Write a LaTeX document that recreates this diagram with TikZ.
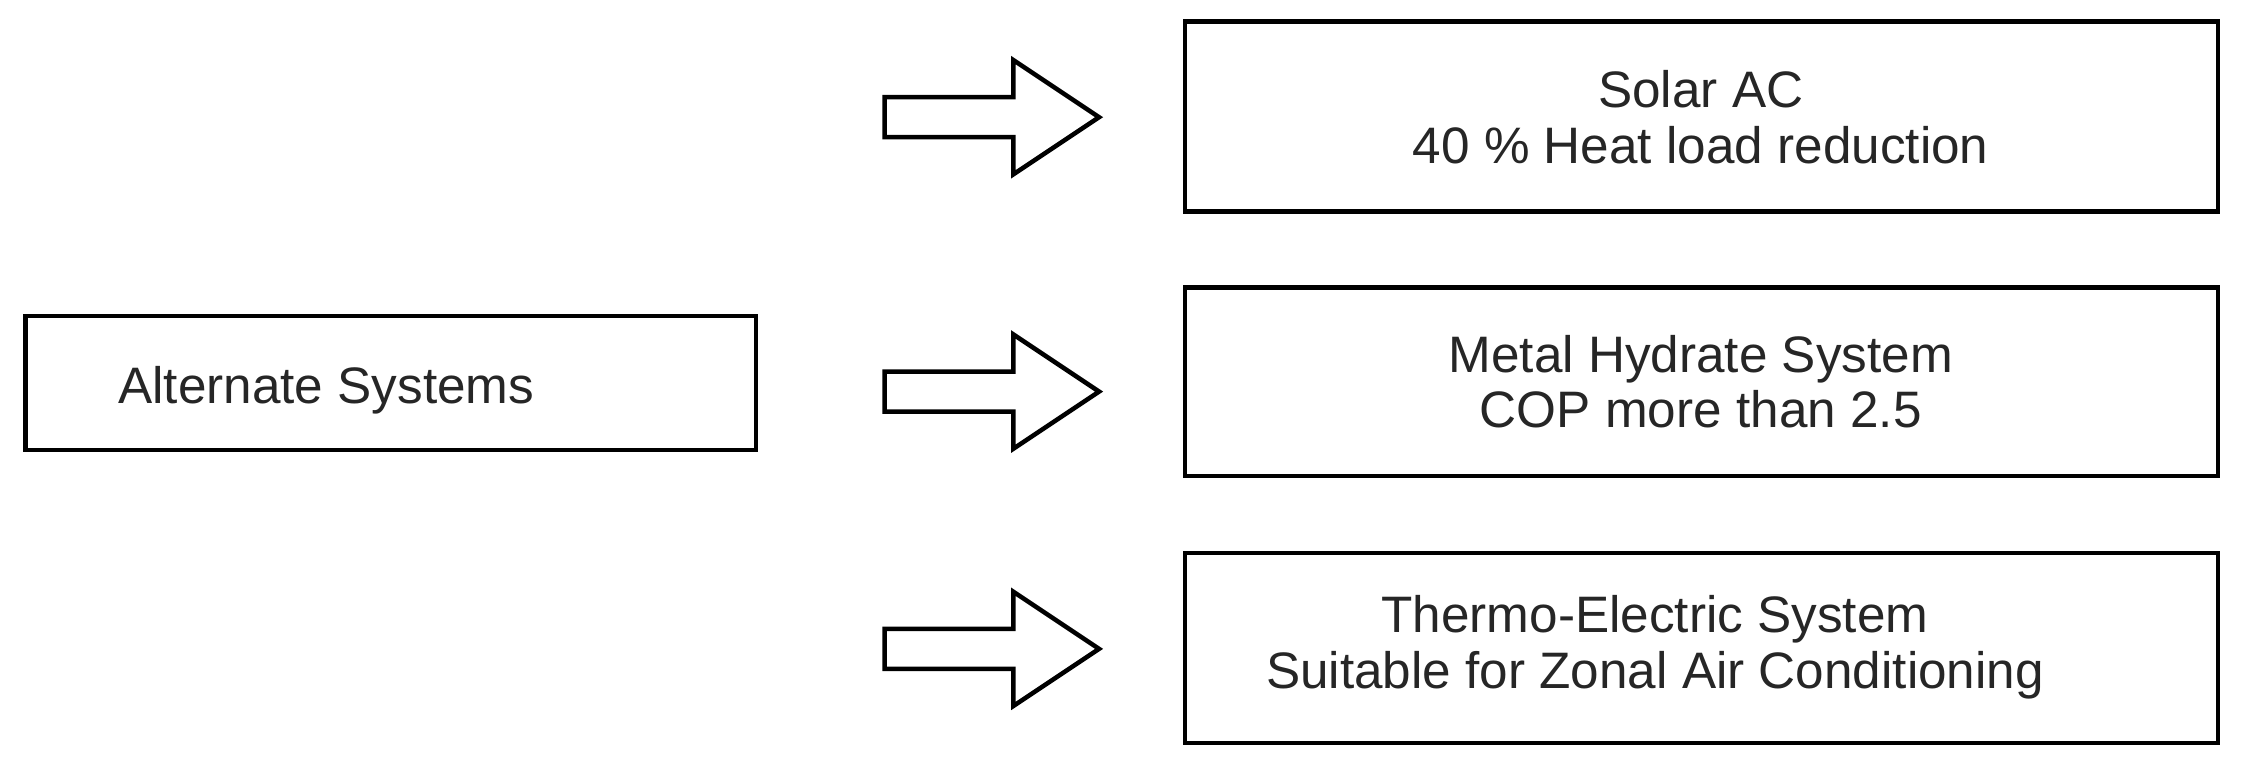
\documentclass[tikz,border=0pt]{standalone}
\usepackage{fontspec}
\setmainfont{Liberation Sans}
\begin{document}
\begin{tikzpicture}[x=0.01cm,y=-0.01cm,
  box/.style={draw,line width=0.9pt,inner sep=0pt},
  lbl/.style={font=\fontsize{10.2}{11.1}\selectfont,align=center,text=black!85,inner sep=0pt},
  bigarrow/.style={draw,line width=0.9pt,line join=miter}]
\useasboundingbox (0,0) rectangle (1568,540);
\draw[box] (18,221) rectangle (529,315);
\node[lbl,anchor=west] (alt) at (82,273) {Alternate Systems};
\draw[box] (829,15) rectangle (1552,148);
\node[lbl] (solar) at (1190,82) {Solar AC\\40 \% Heat load reduction};
\draw[box] (829,201) rectangle (1552,333);
\node[lbl] (metal) at (1190,267) {Metal Hydrate System\\COP more than 2.5};
\draw[box] (829,387) rectangle (1552,520);
\node[lbl] (thermo) at (1158,453) {Thermo-Electric System\\Suitable for Zonal Air Conditioning};
\foreach \c in {82,274,454}{
  \draw[bigarrow] (619,\c-14) -- (709,\c-14) -- (709,\c-40) -- (769,\c) -- (709,\c+40) -- (709,\c+14) -- (619,\c+14) -- cycle;
}
\end{tikzpicture}
\end{document}
